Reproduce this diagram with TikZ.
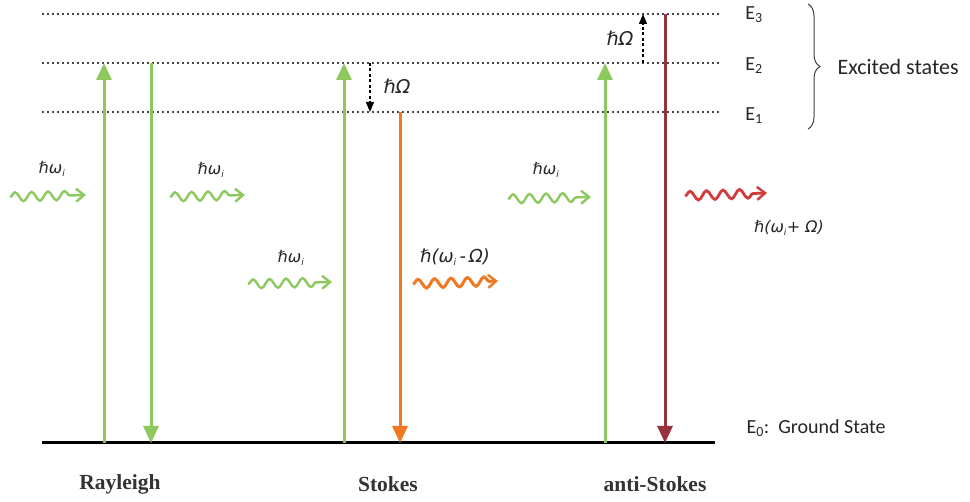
\documentclass[tikz,border=0pt]{standalone}
\usepackage{fontspec}
\setmainfont{Carlito}
\newfontfamily\serifb{Liberation Serif}
\newfontfamily\symf{DejaVu Sans}
\usetikzlibrary{arrows.meta,decorations.pathmorphing,decorations.pathreplacing}
\definecolor{lgreen}{RGB}{141,201,94}
\definecolor{sorange}{RGB}{240,120,32}
\definecolor{dred}{RGB}{150,50,62}
\definecolor{wred}{RGB}{208,60,60}
\definecolor{dotgray}{RGB}{70,70,70}
\tikzset{
  level/.style={dotgray, line width=2pt, dash pattern=on 1.8pt off 3.2pt},
  trans/.style={line width=3pt, -{Triangle[width=15pt,length=17pt]}},
  shiftarrow/.style={black, line width=1.3pt, dash pattern=on 3pt off 2.5pt, -{Triangle[width=8pt,length=10pt]}},
  wavy/.style={line width=2.4pt, decorate, decoration={snake, amplitude=4.5pt, segment length=16.5pt, post length=8pt},
    -{Straight Barb[length=8pt,width=13pt,line width=2.4pt]}},
  elab/.style={font=\fontsize{20}{22}\selectfont, anchor=center, text=black!85},
  plab/.style={font=\symf\itshape\fontsize{16}{18}\selectfont, inner sep=0pt, text=black!85},
  proc/.style={font=\serifb\bfseries\fontsize{21.5}{23}\selectfont, text=black!80}
}
\newcommand{\sbi}{\textsubscript{\fontsize{9}{9}\selectfont i}}
\begin{document}
\begin{tikzpicture}[x=1pt, y=-1pt]
\useasboundingbox (0,0) rectangle (970,502);

% energy levels
\coordinate (e3a) at (42,14);  \coordinate (e3b) at (720,14);
\coordinate (e2a) at (42,63);  \coordinate (e2b) at (720,63);
\coordinate (e1a) at (42,112); \coordinate (e1b) at (720,112);
\coordinate (g0a) at (42,443); \coordinate (g0b) at (715,443);
\draw[level] (e3a) -- (e3b);
\draw[level] (e2a) -- (e2b);
\draw[level] (e1a) -- (e1b);
\draw[black, line width=3pt] (g0a) -- (g0b);

\node[elab] (le3) at (754,15) {E\textsubscript{3}};
\node[elab] (le2) at (754,66) {E\textsubscript{2}};
\node[elab] (le1) at (754,116) {E\textsubscript{1}};
\node[elab, anchor=west] (lg0) at (743,428) {E\textsubscript{0}:\ \ Ground State};

% brace grouping the excited states
\coordinate (bt) at (808,4);
\coordinate (bb) at (808,129);
\draw[black!75, line width=1pt, decorate, decoration={brace, amplitude=12pt}] (bt) -- (bb);
\node[elab, anchor=west, font=\fontsize{22}{24}\selectfont] (exc) at (834,67) {Excited states};

% Rayleigh
\coordinate (r1b) at (104,443); \coordinate (r1t) at (104,63);
\coordinate (r2t) at (151,63);  \coordinate (r2b) at (151,443);
\draw[trans, lgreen] (r1b) -- (r1t);
\draw[trans, lgreen] (r2t) -- (r2b);

% Stokes
\coordinate (s1b) at (344,443); \coordinate (s1t) at (344,63);
\coordinate (s2t) at (400,112); \coordinate (s2b) at (400,443);
\coordinate (sd1) at (370,63);  \coordinate (sd2) at (370,112);
\draw[trans, lgreen] (s1b) -- (s1t);
\draw[trans, sorange] (s2t) -- (s2b);
\draw[shiftarrow] (sd1) -- (sd2);
\node[plab, font=\symf\itshape\fontsize{19}{21}\selectfont] (hs) at (397,86) {ℏΩ};

% anti-Stokes
\coordinate (a1b) at (605,443); \coordinate (a1t) at (605,63);
\coordinate (a2t) at (665,14);  \coordinate (a2b) at (665,443);
\coordinate (ad1) at (643,63);  \coordinate (ad2) at (643,14);
\draw[trans, lgreen] (a1b) -- (a1t);
\draw[trans, dred] (a2t) -- (a2b);
\draw[shiftarrow] (ad1) -- (ad2);
\node[plab, font=\symf\itshape\fontsize{19}{21}\selectfont] (ha) at (620,38) {ℏΩ};

% photons
\coordinate (w1a) at (10,197);  \coordinate (w1b) at (86,195);
\coordinate (w2a) at (170,197); \coordinate (w2b) at (245,195);
\coordinate (w3a) at (248,284); \coordinate (w3b) at (332,282);
\coordinate (w4a) at (413,284); \coordinate (w4b) at (498,281);
\coordinate (w5a) at (508,199); \coordinate (w5b) at (591,197);
\coordinate (w6a) at (685,196); \coordinate (w6b) at (767,193);
\draw[wavy, lgreen] (w1a) -- (w1b);
\draw[wavy, lgreen] (w2a) -- (w2b);
\draw[wavy, lgreen] (w3a) -- (w3b);
\draw[wavy, sorange, line width=3pt] (w4a) -- (w4b);
\draw[wavy, lgreen] (w5a) -- (w5b);
\draw[wavy, wred, line width=2.8pt] (w6a) -- (w6b);

\node[plab] (p1) at (52,169) {ℏω\sbi};
\node[plab] (p2) at (211,170) {ℏω\sbi};
\node[plab] (p3) at (291,258) {ℏω\sbi};
\node[plab, font=\symf\itshape\fontsize{18}{20}\selectfont] (p4) at (455,257) {ℏ(ω\sbi\,-\,Ω)};
\node[plab] (p5) at (546,170) {ℏω\sbi};
\node[plab] (p6) at (789,228) {ℏ(ω\sbi+ Ω)};

% process names
\node[proc] (nr) at (120,484) {Rayleigh};
\node[proc] (ns) at (388,484) {Stokes};
\node[proc] (na) at (655,484) {anti-Stokes};
\end{tikzpicture}
\end{document}
